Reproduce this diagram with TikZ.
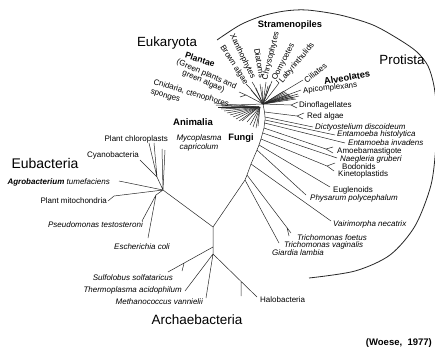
\documentclass[tikz,border=0pt]{standalone}
\usepackage{fontspec}
\setmainfont{Liberation Sans}
\begin{document}
\begin{tikzpicture}[x=1pt,y=-1pt,
  br/.style={draw=black!85,line width=0.5pt},
  arcst/.style={draw=black!85,line width=0.8pt},
  sp/.style={inner sep=0pt,font=\fontsize{8}{8.5}\selectfont},
  spi/.style={inner sep=0pt,font=\fontsize{8}{8.5}\selectfont\itshape},
  bl/.style={inner sep=0pt,font=\fontsize{9.3}{10}\selectfont\bfseries},
  grp/.style={inner sep=0pt,font=\fontsize{13.3}{14}\selectfont}]
\useasboundingbox (0,0) rectangle (435,353);

% ---------- Eubacteria ----------
\coordinate (E) at (163,190);
\coordinate (C1) at (157,177);
\coordinate (tCy) at (140,160);
\coordinate (tCh1) at (149,143);
\coordinate (tCh2) at (154,143);
\coordinate (tMy1) at (162,149);
\coordinate (tMy2) at (165,150);
\coordinate (tAg) at (119,181);
\coordinate (tMi) at (114,196);
\coordinate (tMiF) at (108,201);
\coordinate (P1) at (156,195);
\coordinate (tPs) at (142,221);
\coordinate (tEc) at (148,238);
\coordinate (J) at (213,227);
\draw[br] (E)--(C1) (C1)--(tCy) (C1)--(tCh1) (C1)--(tCh2)
  (E)--(tMy1) (E)--(tMy2) (E)--(tAg) (E)--(tMi) (tMi)--(tMiF)
  (E)--(P1) (P1)--(tPs) (P1)--(tEc) (E)--(J);

% ---------- Archaebacteria ----------
\coordinate (A0) at (213,247);
\coordinate (A1) at (213,254);
\coordinate (tSu) at (168,272);
\coordinate (SuF) at (184,263.5);
\coordinate (SuF2) at (182,271);
\coordinate (tTh) at (185,291);
\coordinate (tMe) at (206,298);
\coordinate (tHa) at (257,297);
\coordinate (HaF) at (241,281.4);
\coordinate (HaF2) at (241,296);
\draw[br] (J)--(A1) (A0)--(tSu) (SuF)--(SuF2) (A1)--(tTh) (A1)--(tMe)
  (A1)--(tHa) (HaF)--(HaF2);

% ---------- Eukaryote trunk ----------
\coordinate (Q1) at (245,180);
\coordinate (Q1b) at (247,175);
\coordinate (Q2) at (251,164);
\coordinate (Q3) at (257,150);
\coordinate (Q3b) at (259,145);
\coordinate (Q4) at (261,139);
\coordinate (Q4b) at (262.6,133);
\coordinate (Q5) at (264,128);
\coordinate (Q5b) at (264.5,123);
\coordinate (Q5c) at (265,120);
\coordinate (Q6) at (265,117);
\coordinate (Q6b) at (264.5,112);
\coordinate (R) at (263,104);
\draw[br] (J)--(Q1)--(Q1b)--(Q2)--(Q3)--(Q3b)--(Q4)--(Q4b)--(Q5)--(Q5b)--(Q5c)--(Q6)--(Q6b)--(R);

% protist branches
\coordinate (tGi) at (279,243);
\coordinate (tTr) at (291,233);
\coordinate (TrF) at (287,227.5);
\coordinate (TrF2) at (289,236);
\coordinate (tVa) at (331,221);
\coordinate (tPh) at (306,195);
\coordinate (tEu) at (330,187);
\coordinate (vKi) at (327,166);
\coordinate (tBo) at (335,163);
\coordinate (tKi) at (334,171);
\coordinate (tNa) at (337,158);
\coordinate (vAm) at (326,149);
\coordinate (tAm1) at (333,147);
\coordinate (tAm2) at (333,153);
\coordinate (tEi) at (345,143);
\coordinate (tEh) at (335,135);
\coordinate (tDy) at (313,127);
\coordinate (vRe) at (297,116);
\coordinate (tRe1) at (304,113);
\coordinate (tRe2) at (303,119);
\coordinate (vDn) at (291,105);
\coordinate (tDn1) at (298,102);
\coordinate (tDn2) at (297,108);
\coordinate (tAp) at (301,90);
\coordinate (tCi) at (303,80);
\draw[br] (Q1)--(tGi) (Q1b)--(tTr) (TrF)--(TrF2) (Q2)--(tVa) (Q3)--(tPh)
  (Q3b)--(tEu) (Q4)--(vKi) (vKi)--(tBo) (vKi)--(tKi) (Q4b)--(tNa)
  (Q5)--(vAm) (vAm)--(tAm1) (vAm)--(tAm2) (Q5b)--(tEi) (Q5c)--(tEh)
  (Q6)--(tDy) (Q6b)--(vRe) (vRe)--(tRe1) (vRe)--(tRe2)
  (R)--(vDn) (vDn)--(tDn1) (vDn)--(tDn2) (R)--(tAp) (R)--(tCi);

% alveolate wedge
\foreach \x/\y [count=\i] in {284/91,285.5/92,287/93,288.5/94,290/95,291.5/96,293/97,294.5/98,296/99,298/94,299/96}
  {\coordinate (al\i) at (\x,\y); \draw[br] (R)--(al\i);}

% stramenopiles
\foreach \x/\y [count=\i] in {249/87,251/90,254/85,256/88,260/84,262/87,266/82,268/86,272/81,270/85,279/83}
  {\coordinate (st\i) at (\x,\y); \draw[br] (R)--(st\i);}
\coordinate (sf1) at (246,84);
\coordinate (sf2) at (252,82);
\coordinate (sf3) at (276,80);
\draw[br] (st1)--(sf1) (st3)--(sf2) (st11)--(sf3);

% plantae, cnidaria
\coordinate (vPl) at (246,95);
\coordinate (tPl1) at (239,92);
\coordinate (tPl2) at (240,97);
\coordinate (tCn) at (234,105);
\draw[br] (R)--(vPl) (vPl)--(tPl1) (vPl)--(tPl2) (R)--(tCn);

% animalia fan
\coordinate (RA) at (259,107);
\foreach \x/\y [count=\i] in {214/103,216/105,218/107,221/109,224/111,227/113,230/115,233/117,236/119,239/121,242/121,229/108,222/106}
  {\coordinate (an\i) at (\x,\y); \draw[br] (RA)--(an\i);}

% fungi fan
\coordinate (RF) at (260,107);
\foreach \x/\y [count=\i] in {247/122,250/125,253/127,256/128,258/126}
  {\coordinate (fu\i) at (\x,\y); \draw[br] (RF)--(fu\i);}

% ---------- Protista arc ----------
\draw[arcst] plot[smooth] coordinates {(217,40) (240,25) (262,16) (285,11) (307,10) (340,15) (373,25) (400,40) (417,52) (428,66) (434,86) (437,115) (436,145) (431,185) (415,226) (390,255) (355,271) (309,278)};

% ---------- group titles ----------
\node[grp] (eukt) at (167,43) {Eukaryota};
\node[grp,font=\fontsize{14}{14}\selectfont] (eubt) at (45,163) {Eubacteria};
\node[grp,font=\fontsize{13.5}{14}\selectfont] (arct) at (197,320) {Archaebacteria};
\node[grp] (prot) at (402,60) {Protista};
\node[bl] (strt) at (290,25) {Stramenopiles};
\node[bl,rotate=10] (alvt) at (347,77.5) {Alveolates};
\node[bl,font=\fontsize{9.5}{10}\selectfont\bfseries] (anit) at (193,122) {Animalia};
\node[bl] (funt) at (241,138) {Fungi};
\node[bl,font=\fontsize{8.6}{9}\selectfont\bfseries,rotate=-18] (plat) at (200,59.5) {Plantae};
\node[sp,rotate=-23,align=center,font=\fontsize{8}{7.8}\selectfont] (gpl) at (205,78) {(Green plants and\\green algae)};
\node[sp,rotate=-16.6,align=left,font=\fontsize{8}{9.5}\selectfont] (cni) at (189.8,98) {Cnidaria, ctenophores\\sponges};

% stramenopile labels
\node[sp,rotate=-57] (lbr) at (234,65) {Brown algae};
\node[sp,rotate=-64] (lxa) at (242.5,56.5) {Xanthophytes};
\node[sp,rotate=-80] (ldi) at (259.5,63) {Diatoms};
\node[sp,rotate=76] (lch) at (271,56) {Chrysophytes};
\node[sp,rotate=63] (loo) at (283.5,62) {Oomycetes};
\node[sp,rotate=50] (lla) at (297,63) {Labyrinthulids};
\node[sp,rotate=38] (lci) at (315.5,73) {Ciliates};

% protist labels
\node[sp,anchor=west,rotate=6] (lap) at (303,91) {Apicomplexans};
\node[sp,anchor=west] (ldn) at (299,105) {Dinoflagellates};
\node[sp,anchor=west] (lre) at (307,116) {Red algae};
\node[spi,anchor=west] (ldy) at (315,127) {Dictyostelium discoideum};
\node[spi,anchor=west] (leh) at (337,134.5) {Entamoeba histolytica};
\node[spi,anchor=west] (lei) at (348,143) {Entamoeba invadens};
\node[sp,anchor=west] (lam) at (337,151) {Amoebamastigote};
\node[spi,anchor=west] (lna) at (340,159) {Naegleria gruberi};
\node[sp,anchor=west] (lbo) at (342,167) {Bodonids};
\node[sp,anchor=west] (lki) at (338,174) {Kinetoplastids};
\node[sp,anchor=west] (leu) at (333,190) {Euglenoids};
\node[spi,anchor=west] (lph) at (310,198) {Physarum polycephalum};
\node[spi,anchor=west] (lva) at (333,224) {Vairimorpha necatrix};
\node[spi,anchor=west] (ltf) at (297,238) {Trichomonas foetus};
\node[spi,anchor=west] (ltv) at (284,245) {Trichomonas vaginalis};
\node[spi,anchor=west] (lgi) at (272,253) {Giardia lambia};

% eubacteria labels
\node[sp,anchor=east] (lpc) at (168,139) {Plant chloroplasts};
\node[spi,align=center] (lmy) at (199,143) {Mycoplasma\\capricolum};
\node[sp,anchor=east] (lcy) at (139,155) {Cyanobacteria};
\node[spi,anchor=east] (lag) at (110,182) {\bfseries Agrobacterium\mdseries{} tumefaciens};
\node[sp,anchor=east] (lmi) at (107,201) {Plant mitochondria};
\node[spi,anchor=east] (lps) at (143,225) {Pseudomonas testosteroni};
\node[spi] (lec) at (142,247) {Escherichia coli};

% archaebacteria labels
\node[spi,anchor=east] (lsu) at (173,278) {Sulfolobus solfataricus};
\node[spi,anchor=east] (lth) at (182,290) {Thermoplasma acidophilum};
\node[spi,anchor=east] (lme) at (203,302) {Methanococcus vannielii};
\node[sp,anchor=west] (lha) at (260,300) {Halobacteria};

\node[inner sep=0pt,anchor=east,font=\fontsize{9.5}{10}\selectfont\bfseries] (woe) at (432,343) {(Woese,\ \ 1977)};
\end{tikzpicture}
\end{document}
